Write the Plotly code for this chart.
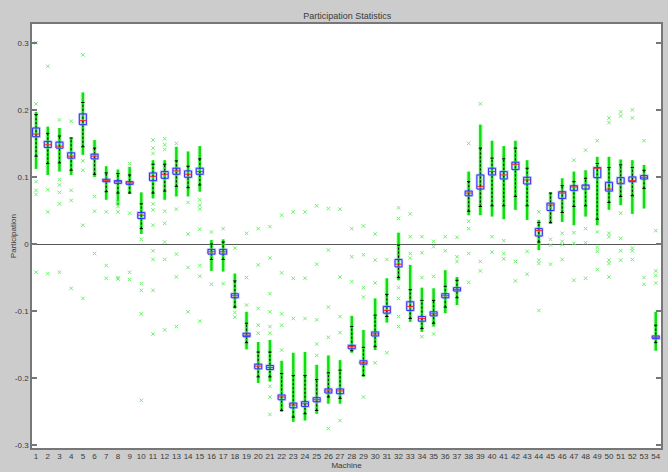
import plotly.graph_objects as go

# Per-machine summary statistics of the participation values
machines = list(range(1, 55))

q1 = [0.160, 0.144, 0.143, 0.128, 0.178, 0.127, 0.093, 0.0905, 0.089, 0.038,
      0.0945, 0.098, 0.104, 0.0995, 0.104, -0.015, -0.015, -0.080, -0.138, -0.186,
      -0.187, -0.232, -0.244, -0.242, -0.235, -0.222, -0.223, -0.156, -0.179, -0.137,
      -0.103, -0.034, -0.099, -0.115, -0.107, -0.080, -0.070, 0.072, 0.082, 0.103,
      0.097, 0.111, 0.0895, 0.012, 0.050, 0.068, 0.080, 0.082, 0.099, 0.079,
      0.090, 0.093, 0.097, -0.141]

median = [0.164, 0.148, 0.146, 0.131, 0.184, 0.131, 0.095, 0.093, 0.091, 0.043,
          0.101, 0.104, 0.109, 0.104, 0.108, -0.0115, -0.0115, -0.077, -0.136, -0.182,
          -0.184, -0.228, -0.240, -0.238, -0.232, -0.219, -0.219, -0.153, -0.177, -0.134,
          -0.099, -0.030, -0.093, -0.111, -0.104, -0.077, -0.068, 0.076, 0.086, 0.108,
          0.103, 0.119, 0.0955, 0.020, 0.058, 0.076, 0.085, 0.087, 0.113, 0.082,
          0.0905, 0.0945, 0.0995, -0.139]

q3 = [0.173, 0.153, 0.152, 0.136, 0.194, 0.134, 0.0965, 0.0945, 0.093, 0.047,
      0.106, 0.108, 0.113, 0.109, 0.113, -0.008, -0.008, -0.074, -0.133, -0.179,
      -0.181, -0.225, -0.237, -0.235, -0.229, -0.216, -0.216, -0.151, -0.174, -0.131,
      -0.093, -0.023, -0.086, -0.108, -0.101, -0.074, -0.065, 0.079, 0.103, 0.113,
      0.108, 0.122, 0.0995, 0.023, 0.061, 0.078, 0.087, 0.088, 0.114, 0.092,
      0.099, 0.100, 0.102, -0.137]

whisker_lo = [0.131, 0.120, 0.121, 0.110, 0.145, 0.104, 0.078, 0.076, 0.076, 0.023,
              0.076, 0.079, 0.086, 0.084, 0.088, -0.023, -0.023, -0.094, -0.147, -0.198,
              -0.198, -0.248, -0.258, -0.253, -0.248, -0.228, -0.230, -0.159, -0.196, -0.153,
              -0.108, -0.050, -0.111, -0.126, -0.118, -0.094, -0.080, 0.049, 0.056, 0.057,
              0.057, 0.071, 0.057, 0.003, 0.032, 0.047, 0.056, 0.057, 0.037, 0.062,
              0.071, 0.072, 0.083, -0.147]

whisker_hi = [0.193, 0.165, 0.161, 0.158, 0.211, 0.143, 0.106, 0.105, 0.103, 0.060,
              0.119, 0.119, 0.124, 0.116, 0.127, 0.000, 0.003, -0.055, -0.118, -0.161,
              -0.161, -0.193, -0.196, -0.196, -0.202, -0.192, -0.188, -0.123, -0.154, -0.106,
              -0.075, -0.0015, -0.068, -0.084, -0.084, -0.063, -0.054, 0.093, 0.143, 0.128,
              0.127, 0.143, 0.113, 0.032, 0.076, 0.087, 0.093, 0.098, 0.120, 0.114,
              0.118, 0.114, 0.110, -0.121]

# Extent of the densely packed samples around each box
dense_lo = [0.112, 0.103, 0.108, 0.103, 0.133, 0.100, 0.066, 0.058, 0.075, 0.015,
            0.068, 0.066, 0.071, 0.071, 0.078, -0.040, -0.041, -0.096, -0.157, -0.207,
            -0.205, -0.250, -0.265, -0.263, -0.253, -0.238, -0.238, -0.162, -0.198, -0.158,
            -0.117, -0.054, -0.116, -0.131, -0.123, -0.103, -0.091, 0.043, 0.043, 0.041,
            0.037, 0.051, 0.036, -0.009, 0.030, 0.033, 0.028, 0.041, 0.028, 0.051,
            0.058, 0.045, 0.053, -0.159]

dense_hi = [0.197, 0.175, 0.173, 0.159, 0.226, 0.155, 0.116, 0.111, 0.115, 0.077,
            0.125, 0.125, 0.145, 0.138, 0.146, 0.006, 0.007, -0.044, -0.101, -0.146,
            -0.143, -0.174, -0.162, -0.161, -0.180, -0.166, -0.173, -0.107, -0.128, -0.081,
            -0.051, 0.017, -0.031, -0.065, -0.066, -0.039, -0.049, 0.108, 0.178, 0.154,
            0.146, 0.154, 0.125, 0.036, 0.077, 0.098, 0.108, 0.110, 0.130, 0.130,
            0.126, 0.125, 0.118, -0.101]

# Isolated samples away from the dense cluster
scattered = [
    [0.300, 0.209, 0.093, 0.080, 0.074, -0.042],
    [0.265, 0.081, 0.048, -0.044],
    [0.185, 0.096, 0.088, 0.077, 0.060, -0.042],
    [0.183, 0.080, 0.065, -0.066],
    [0.282, 0.124, 0.110, 0.028, -0.081],
    [0.071, 0.049, -0.014],
    [0.048, -0.032, -0.051],
    [0.063, 0.056, 0.048, -0.050, -0.052],
    [0.120, 0.046, -0.042, -0.053],
    [0.007, -0.059, -0.069, -0.104, -0.233],
    [0.155, 0.143, 0.135, 0.060, 0.051, 0.028, -0.010, -0.023, -0.069, -0.134],
    [0.157, 0.148, 0.141, 0.049, 0.031, 0.003, -0.023, -0.128],
    [0.150, 0.052, -0.015, -0.049, -0.123],
    [0.062, 0.015, -0.035, -0.101],
    [0.066, 0.058, 0.052, 0.022, -0.032, -0.048, -0.115],
    [0.018, -0.060],
    [0.023, -0.059],
    [-0.006, -0.102, -0.109],
    [0.016, -0.050, -0.091],
    [0.023, -0.031, -0.096, -0.121, -0.133],
    [0.026, -0.021, -0.074, -0.101, -0.123, -0.133, -0.212, -0.228, -0.254],
    [0.043, -0.043, -0.104, -0.121, -0.158],
    [0.048, -0.051, -0.111],
    [0.048, -0.051, -0.111],
    [0.057, -0.030, -0.113, -0.149, -0.166],
    [0.053, -0.009, -0.094, -0.139, -0.275],
    [0.052, -0.049, -0.108, -0.132, -0.263],
    [0.023, -0.019, -0.056],
    [0.027, -0.016, -0.065, -0.079, -0.228],
    [0.015, -0.024, -0.058, -0.177],
    [-0.023, -0.162],
    [0.054, 0.038, -0.065, -0.081, -0.108, -0.123],
    [0.045, 0.011, -0.014, -0.021],
    [0.011, -0.013, -0.050, -0.138],
    [0.004, -0.004, -0.048, -0.134],
    [0.011, -0.010],
    [0.010, -0.019, -0.026],
    [0.150, 0.034, 0.023, -0.014, -0.057],
    [0.209, -0.026, -0.040],
    [0.011, -0.012],
    [0.005, -0.014, -0.022],
    [-0.026, -0.055],
    [-0.011, -0.045],
    [0.048, -0.024, -0.029, -0.099],
    [0.007, -0.0015, -0.030],
    [0.016, 0.004, -0.001, -0.023],
    [0.125, 0.017, 0.001, -0.054],
    [0.140, 0.023, 0.002, -0.051],
    [0.154, 0.018, -0.005, -0.011, -0.038],
    [0.188, 0.181, 0.016, 0.011, -0.024, -0.029, -0.049],
    [0.197, 0.191, 0.046, 0.0085, -0.010, -0.024],
    [0.200, 0.188, -0.006, -0.010, -0.023],
    [0.154, -0.050, -0.060],
    [0.020, -0.040, -0.047, -0.058],
]

y_ticks = [-0.3, -0.2, -0.1, 0.0, 0.1, 0.2, 0.3]
y_tick_text = ["-0.3", "-0.2", "-0.1", "0", "0.1", "0.2", "0.3"]

BOX_HALF = 0.3
CAP_HALF = 0.14


def vertical_segments(xs, lo, hi):
    sx, sy = [], []
    for x, a, b in zip(xs, lo, hi):
        sx += [x, x, None]
        sy += [a, b, None]
    return sx, sy


def horizontal_segments(xs, ys, half):
    sx, sy = [], []
    for x, y in zip(xs, ys):
        sx += [x - half, x + half, None]
        sy += [y, y, None]
    return sx, sy


def rectangles(xs, lo, hi, half):
    sx, sy = [], []
    for x, a, b in zip(xs, lo, hi):
        sx += [x - half, x + half, x + half, x - half, x - half, None]
        sy += [a, a, b, b, a, None]
    return sx, sy


fig = go.Figure()

# dense sample columns
dx, dy = vertical_segments(machines, dense_lo, dense_hi)
fig.add_trace(go.Scatter(x=dx, y=dy, mode="lines",
                         line=dict(color="rgba(120,255,120,0.35)", width=5),
                         hoverinfo="skip"))
fig.add_trace(go.Scatter(x=dx, y=dy, mode="lines",
                         line=dict(color="#10dd10", width=2.5),
                         hoverinfo="skip"))

# isolated samples
ox, oy = [], []
for m, vals in zip(machines, scattered):
    for v in vals:
        ox.append(m)
        oy.append(v)
fig.add_trace(go.Scatter(x=ox, y=oy, mode="markers",
                         marker=dict(symbol="x-thin", size=3.5,
                                     line=dict(color="#70ee70", width=1)),
                         hoverinfo="skip"))

# whiskers (dashed) and caps
wx, wy = vertical_segments(machines, whisker_lo, whisker_hi)
fig.add_trace(go.Scatter(x=wx, y=wy, mode="lines",
                         line=dict(color="black", width=1, dash="2px,2px"),
                         hoverinfo="skip"))
cx1, cy1 = horizontal_segments(machines, whisker_lo, CAP_HALF)
cx2, cy2 = horizontal_segments(machines, whisker_hi, CAP_HALF)
fig.add_trace(go.Scatter(x=cx1 + cx2, y=cy1 + cy2, mode="lines",
                         line=dict(color="black", width=1), hoverinfo="skip"))

# boxes
bx, by = rectangles(machines, q1, q3, BOX_HALF)
fig.add_trace(go.Scatter(x=bx, y=by, mode="lines",
                         line=dict(color="rgba(150,150,255,0.5)", width=2.5),
                         hoverinfo="skip"))
fig.add_trace(go.Scatter(x=bx, y=by, mode="lines",
                         line=dict(color="#3030ff", width=1),
                         hoverinfo="skip"))

# medians
mx, my = horizontal_segments(machines, median, BOX_HALF)
fig.add_trace(go.Scatter(x=mx, y=my, mode="lines",
                         line=dict(color="#ff2020", width=1), hoverinfo="skip"))

font_family = "Liberation Sans Narrow, Liberation Sans, Arial, sans-serif"
text_color = "#3a3a3a"

fig.update_layout(
    width=668, height=472,
    margin=dict(l=32, r=5, t=24, b=24),
    paper_bgcolor="#cccccc",
    plot_bgcolor="white",
    showlegend=False,
    font=dict(family=font_family, size=8, color=text_color),
    title=dict(text="Participation Statistics", x=0.52, xanchor="center",
               y=0.967, yanchor="middle",
               font=dict(family=font_family, size=9, color=text_color)),
    annotations=[dict(text="Participation", textangle=-90,
                      xref="paper", yref="paper", x=-0.030, y=0.5,
                      xanchor="center", yanchor="middle", showarrow=False,
                      font=dict(family=font_family, size=8, color=text_color))],
)

fig.update_xaxes(
    range=[0.65, 54.45],
    tickmode="array", tickvals=machines, ticktext=[str(m) for m in machines],
    ticks="", showgrid=False, zeroline=False,
    showline=True, linecolor="#777777", linewidth=1.5, mirror=True,
    tickfont=dict(size=8, color=text_color),
    title=dict(text="Machine", standoff=0, font=dict(size=8, color=text_color)),
)

fig.update_yaxes(
    range=[-0.304, 0.328],
    tickmode="array", tickvals=y_ticks, ticktext=y_tick_text,
    ticks="inside", ticklen=5, tickcolor="#777777", tickwidth=1.5,
    showgrid=False,
    zeroline=True, zerolinecolor="#555555", zerolinewidth=1,
    showline=True, linecolor="#777777", linewidth=1.5, mirror="allticks",
    tickfont=dict(size=8, color=text_color),
)

fig.write_html("out.html")
